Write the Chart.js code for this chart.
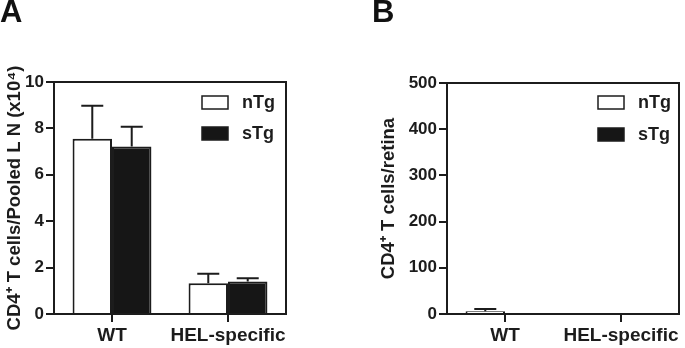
<!DOCTYPE html>
<html>
<head>
<meta charset="utf-8">
<script src="https://cdn.jsdelivr.net/npm/chart.js@4.4.1/dist/chart.umd.min.js"></script>
<style>
  html, body { margin: 0; padding: 0; background: #fff; }
  #wrap { position: relative; width: 685px; height: 348px; overflow: hidden; }
  canvas { position: absolute; top: 0; }
  #cA { left: 0; }
  #cB { left: 345px; }
  .panel { position: absolute; top: -6px; font-family: "Liberation Sans", Arial, sans-serif; font-weight: bold; font-size: 31px; color: #111; }
</style>
</head>
<body>
<div id="wrap">
  <canvas id="cA" width="345" height="348"></canvas>
  <canvas id="cB" width="340" height="348"></canvas>
  <div class="panel" style="left:0px">A</div>
  <div class="panel" style="left:372px">B</div>
</div>
<script>
// ---- data ----
const categories = ['WT', 'HEL-specific'];
const seriesNames = ['nTg', 'sTg'];

const lnNTg = [7.55, 1.33];
const lnNTgErr = [1.43, 0.40];
const lnSTg = [7.22, 1.40];
const lnSTgErr = [0.85, 0.14];
const lnTicks = [0, 2, 4, 6, 8, 10];

const retNTg = [6, 0];
const retNTgErr = [5, 0];
const retSTg = [0, 0];
const retSTgErr = [0, 0];
const retTicks = [0, 100, 200, 300, 400, 500];

const FONT = '"Liberation Sans", Arial, Helvetica, sans-serif';
const INK = '#1c1c1c';

const errorBarPlugin = {
  id: 'errorBars',
  afterDatasetsDraw(chart) {
    const ctx = chart.ctx;
    const y = chart.scales.y;
    ctx.save();
    ctx.strokeStyle = INK;
    ctx.lineWidth = 2;
    chart.data.datasets.forEach((ds, i) => {
      const meta = chart.getDatasetMeta(i);
      meta.data.forEach((el, j) => {
        const err = ds.errors[j];
        if (!err) return;
        const top = y.getPixelForValue(ds.data[j] + err);
        const base = el.y;
        ctx.beginPath();
        ctx.moveTo(el.x, base);
        ctx.lineTo(el.x, top);
        ctx.moveTo(el.x - 11, top);
        ctx.lineTo(el.x + 11, top);
        ctx.stroke();
      });
    });
    ctx.restore();
  }
};

const framePlugin = {
  id: 'frame',
  afterDraw(chart, args, opts) {
    const ctx = chart.ctx;
    const a = chart.chartArea;
    ctx.save();
    ctx.strokeStyle = INK;
    ctx.lineWidth = 2;
    ctx.beginPath();
    ctx.moveTo(a.left, a.top);
    ctx.lineTo(a.right, a.top);
    ctx.lineTo(a.right, a.bottom);
    ctx.stroke();
    // legend
    const lg = opts.legend;
    chart.data.datasets.forEach((ds, i) => {
      const bx = lg.x, by = lg.y + i * lg.gap;
      ctx.fillStyle = ds.backgroundColor;
      ctx.fillRect(bx, by, 26, 13);
      ctx.lineWidth = 1.5;
      ctx.strokeRect(bx, by, 26, 13);
      ctx.fillStyle = INK;
      ctx.font = 'bold 18px ' + FONT;
      ctx.textBaseline = 'middle';
      ctx.textAlign = 'left';
      ctx.fillText(ds.label, bx + 40, by + 7);
    });
    ctx.restore();
  }
};

function makeChart(id, nVals, nErr, sVals, sErr, ticks, title, layout) {
  return new Chart(document.getElementById(id), {
    type: 'bar',
    data: {
      labels: categories,
      datasets: [
        { label: seriesNames[0], data: nVals, errors: nErr, backgroundColor: '#ffffff',
          borderColor: INK, borderWidth: 2, borderSkipped: 'bottom' },
        { label: seriesNames[1], data: sVals, errors: sErr, backgroundColor: '#161616',
          borderColor: INK, borderWidth: 2, borderSkipped: 'bottom' }
      ]
    },
    options: {
      responsive: false,
      animation: false,
      devicePixelRatio: 1,
      categoryPercentage: 0.68,
      barPercentage: 1.0,
      layout: { padding: layout.padding },
      plugins: {
        legend: { display: false },
        tooltip: { enabled: false },
        frame: { legend: layout.legend }
      },
      scales: {
        x: {
          offset: true,
          grid: { display: true, drawOnChartArea: false, offset: false, tickLength: 8, color: INK, lineWidth: 2 },
          border: { display: true, color: INK, width: 2 },
          ticks: { color: INK, padding: 2, autoSkip: false, font: { family: FONT, weight: 'bold', size: 19 }, maxRotation: 0, minRotation: 0 },
          afterFit(s) { s.height = 34; }
        },
        y: {
          min: ticks[0],
          max: ticks[ticks.length - 1],
          afterBuildTicks(s) { s.ticks = ticks.map(v => ({ value: v })); },
          grid: { display: true, drawOnChartArea: false, tickLength: 8, color: INK, lineWidth: 2 },
          border: { display: true, color: INK, width: 2 },
          ticks: { color: INK, padding: 2, font: { family: FONT, weight: 'bold', size: 17 } },
          title: { display: true, text: title, color: INK, padding: { top: 2, bottom: 0 },
                   font: { family: FONT, weight: 'bold', size: 18.5 } },
          afterFit(s) { s.width = layout.yWidth; }
        }
      }
    },
    plugins: [errorBarPlugin, framePlugin]
  });
}

makeChart('cA', lnNTg, lnNTgErr, lnSTg, lnSTgErr, lnTicks,
  'CD4\u207A T cells/Pooled L N (x10\u2074)',
  { padding: { left: 2, top: 82, right: 59, bottom: 0 }, yWidth: 52,
    legend: { x: 202, y: 96, gap: 31 } });

makeChart('cB', retNTg, retNTgErr, retSTg, retSTgErr, retTicks,
  'CD4\u207A T cells/retina',
  { padding: { left: 31, top: 83, right: 6, bottom: 0 }, yWidth: 71,
    legend: { x: 253, y: 96, gap: 32 } });
</script>
</body>
</html>
